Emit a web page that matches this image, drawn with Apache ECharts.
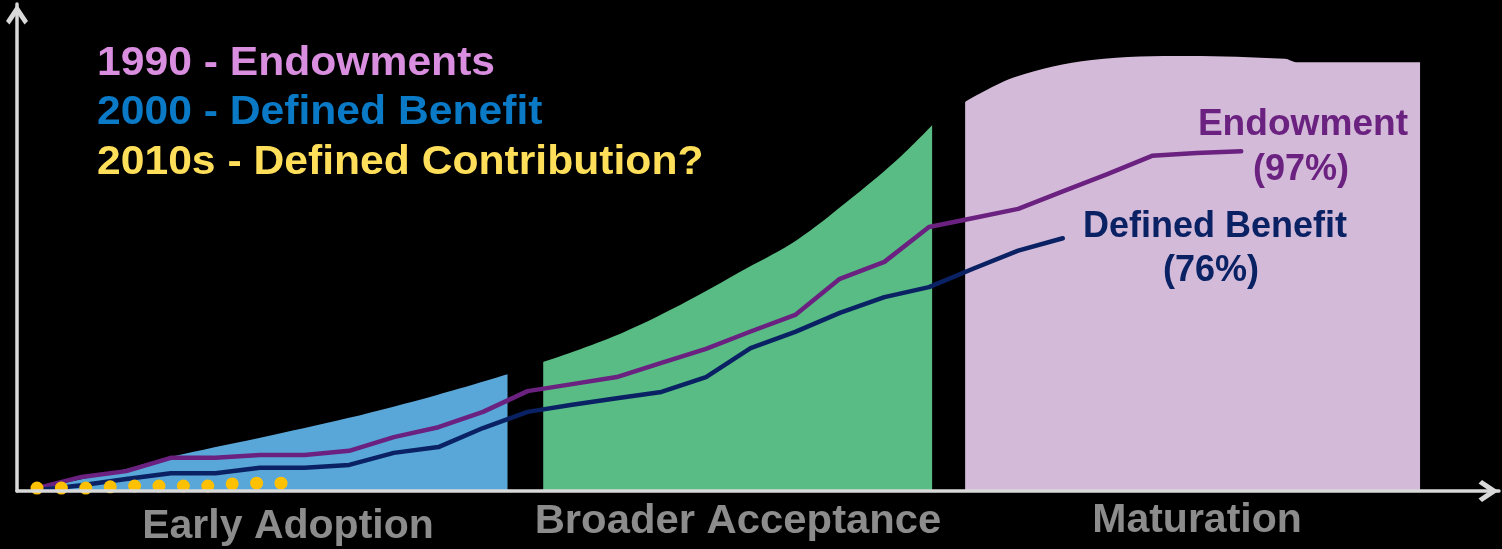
<!DOCTYPE html>
<html>
<head>
<meta charset="utf-8">
<script src="https://cdn.jsdelivr.net/npm/echarts@6/dist/echarts.min.js"></script>
<style>
  html, body { margin: 0; padding: 0; background: #000; }
  #chart { width: 1502px; height: 549px; }
</style>
</head>
<body>
<div id="chart"></div>
<script>
// Adoption curves: one point per period, x = period index
const endowment = [15.7, 18.4, 19.8, 23.0, 23.0, 23.7, 23.7, 24.7, 28.0, 30.4, 34.1, 39.1, 40.8, 42.5,
  45.9, 49.3, 53.5, 57.5, 66.2, 70.3, 78.7, 80.9, 83.1, 87.3, 91.5, 95.9, 96.6, 97];
const definedBenefit = [15.2, 16.4, 17.9, 19.3, 19.3, 20.6, 20.6, 21.3, 24.2, 25.6, 30.2, 34.1, 35.8, 37.4,
  38.9, 42.5, 49.5, 53.4, 58.0, 61.8, 64.2, 68.7, 73.0, 76];

// Defined contribution: early observations on a finer time step
const definedContribution = [15.7, 15.7, 15.7, 16.0, 16.2, 16.2, 16.2, 16.2, 16.7, 16.9, 16.9];

// Stage envelopes (x in period units, top of the shaded band)
const earlyX = [0, 2.0, 2.98, 4.98, 6.97, 8.97, 10.55];
const earlyTop = [15.5, 20.3, 23.2, 27.8, 32.6, 38.2, 43.2];
const broaderX = [11.35, 12.91, 14.42, 15.92, 17.04, 18.16, 19.28, 20.07];
const broaderTop = [46.1, 52.2, 59.9, 68.8, 75.6, 84.8, 94.9, 103.3];
const maturationX = [20.81, 21.93, 23.65, 25.81, 27.98, 28.23, 31.01];
const maturationTop = [108.9, 114.9, 119.0, 120.0, 119.3, 118.5, 118.5];

const legendLines = ['1990 - Endowments', '2000 - Defined Benefit', '2010s - Defined Contribution?'];
const stageNames = ['Early Adoption', 'Broader Acceptance', 'Maturation'];
const endowmentLabel = ['Endowment', '(97%)'];
const benefitLabel = ['Defined Benefit', '(76%)'];

const pair = (xs, ys) => xs.map((x, i) => [x, ys[i]]);
const indexed = ys => ys.map((y, i) => [i, y]);

const AXIS = '#D9D9D9';
// open chevron arrow head, pointing up before rotation
const chevron = 'path://M11,0 L22,16.5 L18.5,20 L11,9 L3.5,20 L0,16.5 Z';
const font = s => 'bold ' + s + 'px "Liberation Sans", Arial, sans-serif';

function axisLine() {
  return {
    show: true,
    onZero: false,
    symbol: ['none', chevron],
    symbolSize: [22, 21],
    symbolOffset: [0, -10.5],
    lineStyle: { color: AXIS, width: 3.5 }
  };
}

function band(xs, ys, color) {
  return {
    type: 'line', data: pair(xs, ys), xAxisIndex: 0, yAxisIndex: 0,
    smooth: 0.35, showSymbol: false, silent: true, z: 1,
    lineStyle: { width: 0 },
    areaStyle: { color: color, opacity: 1, origin: 'start' }
  };
}

function text(str, x, y, size, color, align, sx) {
  return {
    type: 'text', z: 100, silent: true, x: x, y: y, scaleX: sx || 1,
    style: { text: str, x: 0, y: 0, font: font(size), fill: color,
      textAlign: align, textVerticalAlign: 'middle' }
  };
}

const chart = echarts.init(document.getElementById('chart'), null, { renderer: 'canvas' });
chart.setOption({
  backgroundColor: '#000',
  animation: false,
  grid: { left: 17, right: 3, top: 4, bottom: 58, containLabel: false },
  xAxis: [
    { type: 'value', min: -0.4484, max: 32.78, z: 10,
      axisLine: axisLine(),
      axisTick: { show: false }, axisLabel: { show: false }, splitLine: { show: false } },
    { type: 'value', min: -0.8197, max: 59.918, show: false }
  ],
  yAxis: {
    type: 'value', min: 15, max: 132.54, z: 10,
    axisLine: axisLine(),
    axisTick: { show: false }, axisLabel: { show: false }, splitLine: { show: false }
  },
  series: [
    band(earlyX, earlyTop, '#59A7D8'),
    band(broaderX, broaderTop, '#59BC84'),
    band(maturationX, maturationTop, '#D3BAD8'),
    {
      name: 'Endowment', type: 'line', data: indexed(endowment), showSymbol: false, z: 3,
      lineStyle: { color: '#6B2180', width: 4.5, cap: 'round', join: 'round' }
    },
    {
      name: 'Defined Benefit', type: 'line', data: indexed(definedBenefit), showSymbol: false, z: 3,
      lineStyle: { color: '#0A2264', width: 4.5, cap: 'round', join: 'round' }
    },
    {
      name: 'Defined Contribution', type: 'scatter', xAxisIndex: 1, z: 4,
      data: indexed(definedContribution), symbolSize: 13,
      itemStyle: { color: '#FFC000', opacity: 1 }
    }
  ],
  graphic: [
    text(legendLines[0], 97, 64, 41, '#D98EE0', 'left', 1.04),
    text(legendLines[1], 97, 113, 41, '#0A7AC6', 'left', 1.04),
    text(legendLines[2], 97, 163, 41, '#FFDF5A', 'left', 1.04),
    text(endowmentLabel[0], 1408, 125, 36, '#6B2180', 'right', 1.03),
    text(endowmentLabel[1], 1301, 170, 36, '#6B2180', 'center'),
    text(benefitLabel[0], 1215, 227, 36, '#0A2264', 'center'),
    text(benefitLabel[1], 1211, 271, 36, '#0A2264', 'center'),
    text(stageNames[0], 288, 527, 41, '#8C8C8C', 'center'),
    text(stageNames[1], 738, 522, 41, '#8C8C8C', 'center', 1.02),
    text(stageNames[2], 1197, 521, 41, '#8C8C8C', 'center')
  ]
});
</script>
</body>
</html>
